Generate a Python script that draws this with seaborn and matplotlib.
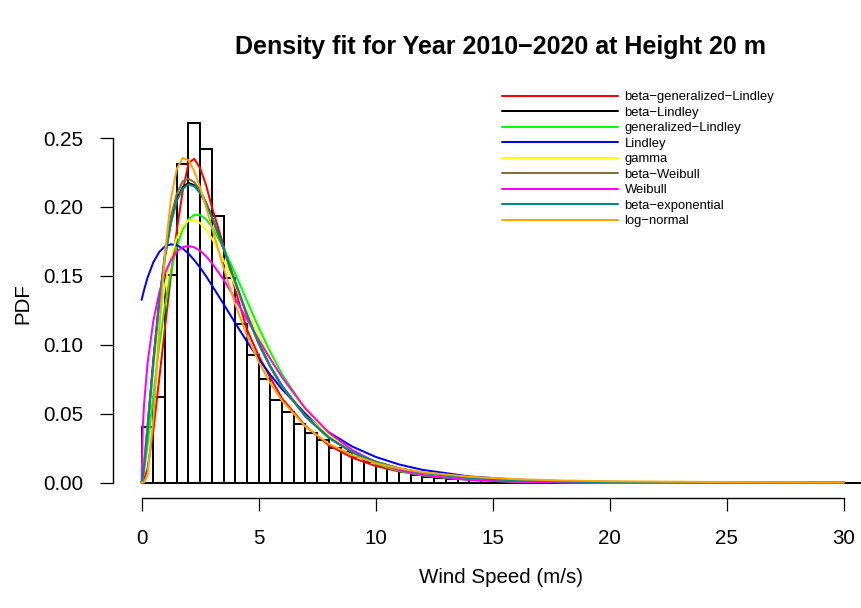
import numpy as np
import pandas as pd
import matplotlib
matplotlib.use('Agg')
import matplotlib.pyplot as plt
from matplotlib.lines import Line2D
import seaborn as sns

# histograma: densidad por intervalo de 0.5 m/s (0 a 31 m/s)
bin_width = 0.5
hist_density = [
    0.0405, 0.0623, 0.1506, 0.2312, 0.2607, 0.2419, 0.1937, 0.1482, 0.1148, 0.0926,
    0.0753, 0.0599, 0.0510, 0.0422, 0.0359, 0.0309, 0.0248, 0.0224, 0.0187, 0.0151,
    0.0120, 0.0096, 0.0074, 0.0054, 0.0042, 0.0035, 0.0028, 0.0023, 0.0019, 0.0015,
    0.0012, 0.0010, 0.0008, 0.0007, 0.0006, 0.0005, 0.0004, 0.0003, 0.0003, 0.0002,
    0.0002, 0.0001, 0.0001, 0.0001, 0.0001, 0.0001, 0.0001, 0.0, 0.0, 0.0,
    0.0, 0.0, 0.0, 0.0, 0.0, 0.0, 0.0, 0.0, 0.0, 0.0,
    0.0, 0.0,
]

# curvas de densidad ajustadas
wind_grid = [0, 0.05, 0.1, 0.25, 0.5, 0.75, 1.0, 1.25, 1.5, 1.75, 2.0, 2.25, 2.5, 2.75,
             3.0, 3.5, 4, 4.5, 5, 5.5, 6, 7, 8, 9, 10, 11, 12, 14, 16, 18, 20, 25, 30]

pdf_bgl = [0, 0.0005, 0.002, 0.010, 0.038, 0.075, 0.113, 0.150, 0.183, 0.211, 0.2318,
           0.2350, 0.2280, 0.2160, 0.2000, 0.1720, 0.1400, 0.1110, 0.0920, 0.0760, 0.0610,
           0.0410, 0.0270, 0.0180, 0.0120, 0.0080, 0.0055, 0.0026, 0.0012, 0.0006, 0.0003,
           0.00006, 0.00001]
pdf_bl = [0, 0.0050, 0.0127, 0.0405, 0.0890, 0.1314, 0.1649, 0.1893, 0.2054, 0.2143, 0.2174,
          0.2158, 0.2106, 0.2027, 0.1929, 0.1698, 0.1453, 0.1217, 0.1010, 0.0840, 0.0700,
          0.0480, 0.0325, 0.0220, 0.0150, 0.0102, 0.0070, 0.0033, 0.0016, 0.0008, 0.0004,
          0.0001, 0.00002]
pdf_gl = [0, 0.0029, 0.0077, 0.0269, 0.0636, 0.0988, 0.1290, 0.1531, 0.1712, 0.1836, 0.1911,
          0.1943, 0.1941, 0.1910, 0.1856, 0.1703, 0.1516, 0.1318, 0.1125, 0.0947, 0.0787,
          0.0528, 0.0344, 0.0219, 0.0137, 0.0084, 0.0051, 0.0018, 0.0006, 0.0002, 0.00007,
          0.0, 0.0]
pdf_lindley = [0.1326, 0.1362, 0.1396, 0.1486, 0.1599, 0.1673, 0.1714, 0.1729, 0.1723, 0.1699,
               0.1662, 0.1614, 0.1559, 0.1498, 0.1432, 0.1296, 0.1157, 0.1023, 0.0897, 0.0782,
               0.0677, 0.0500, 0.0364, 0.0261, 0.0186, 0.0131, 0.0092, 0.0044, 0.0021, 0.0010,
               0.00045, 0.00006, 0.0]
pdf_gamma = [0, 0.0064, 0.0144, 0.0404, 0.0817, 0.1164, 0.1435, 0.1636, 0.1775, 0.1860, 0.1901,
             0.1906, 0.1882, 0.1836, 0.1772, 0.1613, 0.1431, 0.1246, 0.1068, 0.0904, 0.0758,
             0.0520, 0.0348, 0.0228, 0.0148, 0.0094, 0.0060, 0.0023, 0.0009, 0.0003, 0.0001,
             0.0, 0.0]
pdf_bw = [0, 0.0040, 0.0110, 0.0370, 0.0860, 0.1310, 0.1670, 0.1930, 0.2095, 0.2185, 0.2205,
          0.2180, 0.2120, 0.2035, 0.1930, 0.1695, 0.1450, 0.1215, 0.1005, 0.0835, 0.0695,
          0.0478, 0.0325, 0.0221, 0.0151, 0.0103, 0.0071, 0.0034, 0.0017, 0.0008, 0.0004,
          0.0001, 0.00002]
pdf_weibull = [0, 0.0405, 0.0563, 0.0865, 0.1175, 0.1378, 0.1520, 0.1615, 0.1676, 0.1708,
               0.1718, 0.1707, 0.1682, 0.1643, 0.1593, 0.1473, 0.1333, 0.1185, 0.1037, 0.0896,
               0.0764, 0.0537, 0.0362, 0.0236, 0.0148, 0.0090, 0.0054, 0.0018, 0.0005, 0.00015,
               0.00004, 0.0, 0.0]
pdf_be = [0, 0.0048, 0.0122, 0.0395, 0.0875, 0.1300, 0.1635, 0.1880, 0.2042, 0.2132, 0.2163,
          0.2150, 0.2100, 0.2023, 0.1927, 0.1700, 0.1458, 0.1223, 0.1015, 0.0845, 0.0703,
          0.0482, 0.0326, 0.0220, 0.0150, 0.0101, 0.0069, 0.0032, 0.0015, 0.0007, 0.0003,
          0.00008, 0.00002]
pdf_lognormal = [0, 0.0, 0.0001, 0.0052, 0.0468, 0.1102, 0.1666, 0.2057, 0.2276, 0.2356, 0.2339,
                 0.2259, 0.2140, 0.2000, 0.1852, 0.1558, 0.1293, 0.1066, 0.0876, 0.0720, 0.0593,
                 0.0406, 0.0281, 0.0198, 0.0141, 0.0102, 0.0075, 0.0042, 0.0024, 0.00145, 0.0009,
                 0.0003, 0.0001]

models = ['beta−generalized−Lindley', 'beta−Lindley', 'generalized−Lindley', 'Lindley',
          'gamma', 'beta−Weibull', 'Weibull', 'beta−exponential', 'log−normal']
curves = [pdf_bgl, pdf_bl, pdf_gl, pdf_lindley, pdf_gamma, pdf_bw, pdf_weibull, pdf_be,
          pdf_lognormal]
colors = ['#FF0000', '#000000', '#00FF00', '#0000FF', '#FFFF00', '#8B6A3A', '#FF00FF',
          '#008B8B', '#FFA500']

x_ticks = [0, 5, 10, 15, 20, 25, 30]
y_ticks = [0.00, 0.05, 0.10, 0.15, 0.20, 0.25]

df_curves = pd.concat(
    [pd.DataFrame({'wind': wind_grid, 'pdf': c, 'model': m}) for m, c in zip(models, curves)],
    ignore_index=True)

edges = np.arange(len(hist_density) + 1) * bin_width
df_hist = pd.DataFrame({'wind': edges[:-1] + bin_width / 2, 'dens': hist_density})

sns.set_theme(style="white")
plt.rcParams['font.family'] = ['Liberation Sans', 'DejaVu Sans']
plt.rcParams['text.color'] = 'black'
plt.rcParams['axes.labelcolor'] = 'black'

fig = plt.figure(figsize=(8.62, 6.08), dpi=100)
ax = fig.add_axes([0.1307, 0.1801, 0.9018, 0.6406])

sns.histplot(data=df_hist, x='wind', weights='dens', bins=list(edges), stat='count',
             fill=False, color='black', linewidth=1.4, ax=ax)

sns.lineplot(data=df_curves, x='wind', y='pdf', hue='model', hue_order=models,
             palette=dict(zip(models, colors)), estimator=None, sort=False,
             linewidth=1.45, legend=False, ax=ax)

ax.set_xlim(-1.239, 31.98)
ax.set_ylim(-0.0116, 0.2711)

for s in ['top', 'right']:
    ax.spines[s].set_visible(False)
for s in ['left', 'bottom']:
    ax.spines[s].set_linewidth(1.0)
    ax.spines[s].set_color('black')
ax.spines['left'].set_bounds(0, 0.25)
ax.spines['bottom'].set_bounds(0, 30)

ax.set_xticks(x_ticks)
ax.set_xticklabels([str(t) for t in x_ticks])
ax.set_yticks(y_ticks)
ax.set_yticklabels([f'{t:.2f}' for t in y_ticks])
ax.tick_params(axis='both', which='major', bottom=True, left=True, direction='out',
               length=9.1, width=0.9, color='black', labelsize=14.8, labelcolor='black')
ax.tick_params(axis='x', pad=13)
ax.tick_params(axis='y', pad=12)

ax.set_xlabel('Wind Speed (m/s)', fontsize=14.8, labelpad=14.5, color='black')
ax.set_ylabel('PDF', fontsize=14.8, labelpad=8, color='black')

fig.text(501 / 862, 1 - 47 / 608, 'Density fit for Year 2010−2020 at Height 20 m',
         ha='center', va='center', fontsize=18, fontweight='bold', color='black')

handles = [Line2D([], [], color=c, linewidth=1.45) for c in colors]
leg = ax.legend(handles, models, loc='upper left', bbox_to_anchor=(502 / 862, 1 - 91 / 608),
                bbox_transform=fig.transFigure, frameon=False, fontsize=9.4,
                handlelength=8.9, handletextpad=0.48, labelspacing=0.26, borderpad=0,
                borderaxespad=0)
for t in leg.get_texts():
    t.set_color('black')

fig.savefig('out.png', dpi=100)
plt.close(fig)
